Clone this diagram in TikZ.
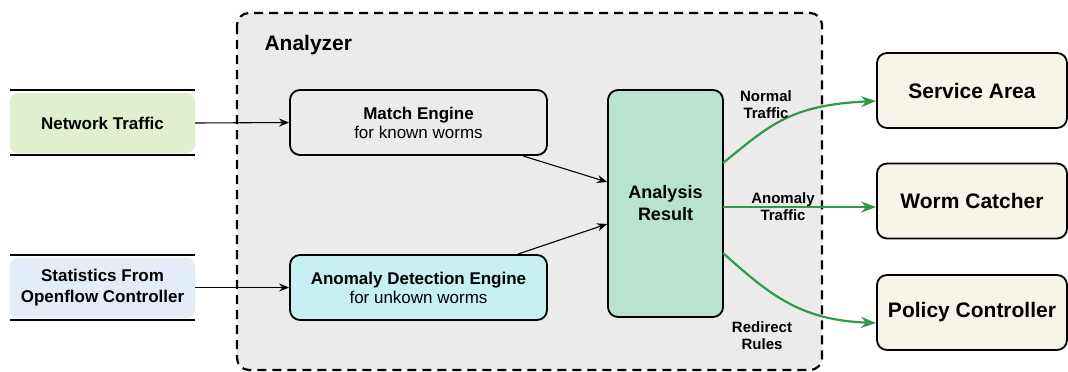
\documentclass[tikz,border=0pt]{standalone}
\usepackage{fontspec}
\setmainfont{Liberation Sans}
\usetikzlibrary{arrows.meta}
\definecolor{anabg}{HTML}{EBEBEB}
\definecolor{netfill}{HTML}{E0EFCE}
\definecolor{statfill}{HTML}{E2EDF7}
\definecolor{anomfill}{HTML}{C8F0F2}
\definecolor{resfill}{HTML}{BAE2D0}
\definecolor{outfill}{HTML}{F7F5EA}
\definecolor{grn}{HTML}{2E9A4C}
\tikzset{
  box/.style={draw=black, line width=1.8pt, rounded corners=10pt, inner sep=0pt},
  srcbox/.style={rounded corners=8pt, inner sep=0pt, minimum width=185pt, minimum height=60pt, align=center, font=\fontsize{17}{21}\selectfont\bfseries},
  bar/.style={line width=2.6pt},
  blk/.style={-{Stealth[length=10pt,width=8pt]}, line width=1.1pt},
  gr/.style={-{Stealth[length=15pt,width=11pt]}, draw=grn, line width=2.2pt},
  lbl/.style={font=\fontsize{15}{17}\selectfont\bfseries, align=center},
  outbox/.style={box, fill=outfill, minimum width=190pt, minimum height=75pt, font=\fontsize{21}{24}\selectfont\bfseries}
}
\begin{document}
\begin{tikzpicture}[x=1pt,y=-1pt]
\useasboundingbox (0,0) rectangle (1068,372);
% analyzer frame
\draw[fill=anabg, dash pattern=on 9pt off 6pt, line width=2.2pt, rounded corners=12pt] (237,13) rectangle (822,370);
\node[anchor=west, font=\fontsize{21}{23}\selectfont\bfseries] (anl) at (261,45) {Analyzer};
% sources
\node[srcbox, fill=netfill] (net) at (102.5,123) {Network Traffic};
\draw[bar] (10,90) -- (195,90);
\draw[bar] (10,155) -- (195,155);
\node[srcbox, fill=statfill] (stat) at (102.5,288) {Statistics From\\Openflow Controller};
\draw[bar] (10,255) -- (195,255);
\draw[bar] (10,320) -- (195,320);
% engines
\node[box, fill=anabg, minimum width=257pt, minimum height=65pt, align=center] (match) at (418.5,122.5)
  {{\fontsize{17}{21}\selectfont\bfseries Match Engine}\\[2pt]{\fontsize{17}{21}\selectfont for known worms}};
\node[box, fill=anomfill, minimum width=257pt, minimum height=65pt, align=center] (anom) at (418.5,287.5)
  {{\fontsize{17}{21}\selectfont\bfseries Anomaly Detection Engine}\\[2pt]{\fontsize{17}{21}\selectfont for unkown worms}};
\node[box, fill=resfill, minimum width=115pt, minimum height=227pt, align=center, font=\fontsize{18}{22}\selectfont\bfseries] (res) at (665.5,203.5) {Analysis\\Result};
% outputs
\node[outbox] (svc) at (972,90.5) {Service Area};
\node[outbox] (worm) at (972,201) {Worm Catcher};
\node[outbox] (pol) at (972,312.5) {Policy Controller};
% black connectors
\draw[blk] (net.east) -- (match.west);
\draw[blk] (stat.east |- anom.west) -- (anom.west);
\draw[blk] (match.south east) ++(-25,0) coordinate (m1) -- (res.west |- 0,182);
\draw[blk] (anom.north east) ++(-30,0) coordinate (a1) -- (res.west |- 0,224);
% green connectors
\coordinate (g1) at (723,163);
\coordinate (g2) at (723,207);
\coordinate (g3) at (723,253);
\draw[gr] (g1) .. controls (770,125) and (790,105) .. (svc.west |- 0,101);
\draw[gr] (g2) -- (worm.west |- 0,207);
\draw[gr] (g3) .. controls (770,295) and (800,320) .. (pol.west |- 0,323);
% labels
\node[lbl] (l1) at (766,105) {Normal\\Traffic};
\node[lbl] (l2) at (783,207) {Anomaly\\Traffic};
\node[lbl] (l3) at (762,336) {Redirect\\Rules};
\end{tikzpicture}
\end{document}
